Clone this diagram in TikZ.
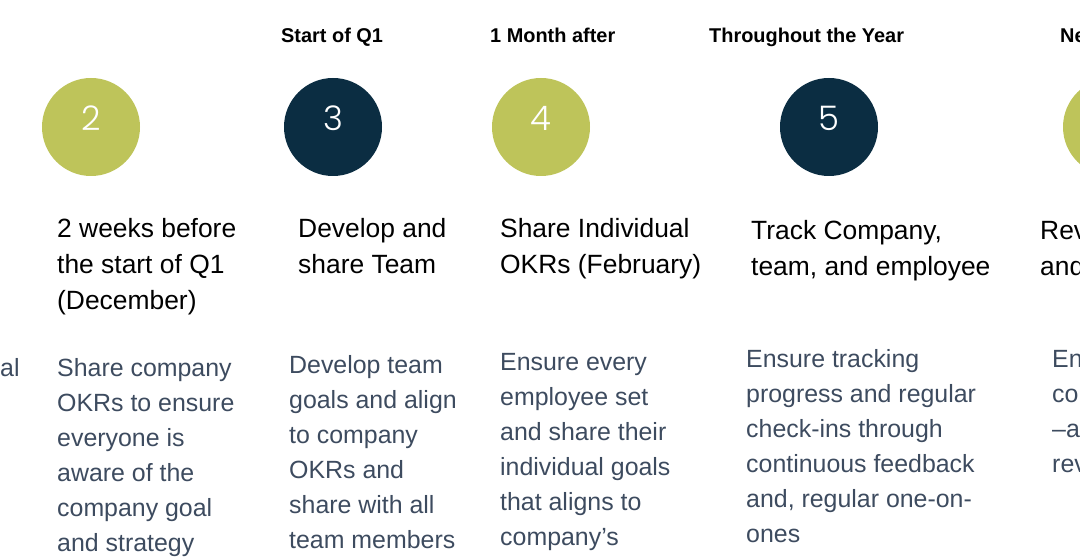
\documentclass[tikz,border=0pt]{standalone}
\usepackage{fontspec}
\setmainfont{Liberation Sans}
\newfontfamily\numfont{Poppins Light}
\usepackage{tikz}
\usetikzlibrary{positioning}
\definecolor{okrgreen}{HTML}{BEC45A}
\definecolor{okrnavy}{HTML}{0B2D42}
\definecolor{okrslate}{HTML}{3D4B5F}
\newcommand\stacklines[1]{\parbox[t]{300bp}{\raggedright #1}}

\begin{document}
\begin{tikzpicture}[x=1bp,y=-1bp,
  when/.style={anchor=base west,inner sep=0,font=\fontsize{20}{24}\selectfont\bfseries},
  dot/.style={circle,minimum size=98bp,inner sep=0},
  num/.style={anchor=base,inner sep=0,text=white,font=\numfont\fontsize{34}{34}\selectfont},
  title/.style={anchor=base west,inner sep=0,font=\fontsize{26.5}{36}\selectfont},
  body/.style={anchor=base west,inner sep=0,text=okrslate,font=\fontsize{25}{35}\selectfont}]
  \path[use as bounding box] (0,0) rectangle (1080,560);
  \clip (0,0) rectangle (1080,560);
  % when
  \node[when] (w3) at (281,43) {Start of Q1};
  \node[when] (w4) at (490,43) {1 Month after};
  \node[when] (w5) at (709,43) {Throughout the Year};
  \node[when] (w6) at (1060,43) {Ne};
  % steps
  \foreach \x/\n/\c in {91/2/okrgreen,333/3/okrnavy,541/4/okrgreen,829/5/okrnavy,1112/6/okrgreen}{
    \node[dot,fill=\c] (c\n) at (\x,127) {};
    \node[num] (n\n) at (\x,131) {\n};
  }
  % titles
  \node[title] (t2) at (57,238) {\stacklines{2 weeks before\\the start of Q1\\(December)}};
  \node[title] (t3) at (298,238) {\stacklines{Develop and\\share Team}};
  \node[title] (t4) at (500,238) {\stacklines{Share Individual\\OKRs (February)}};
  \node[title] (t5) at (751,240) {\stacklines{Track Company,\\team, and employee}};
  \node[title] (t6) at (1040,240) {\stacklines{Rev\\and}};
  % details
  \node[body] (b1) at (0,377) {al};
  \node[body] (b2) at (57,377) {\stacklines{Share company\\OKRs to ensure\\everyone is\\aware of the\\company goal\\and strategy}};
  \node[body] (b3) at (289,374) {\stacklines{Develop team\\goals and align\\to company\\OKRs and\\share with all\\team members}};
  \node[body] (b4) at (500,371) {\stacklines{Ensure every\\employee set\\and share their\\individual goals\\that aligns to\\company’s}};
  \node[body] (b5) at (746,368) {\stacklines{Ensure tracking\\progress and regular\\check-ins through\\continuous feedback\\and, regular one-on-\\ones}};
  \node[body] (b6) at (1052,368) {\stacklines{En\\co\\–a\\rev}};
\end{tikzpicture}
\end{document}
